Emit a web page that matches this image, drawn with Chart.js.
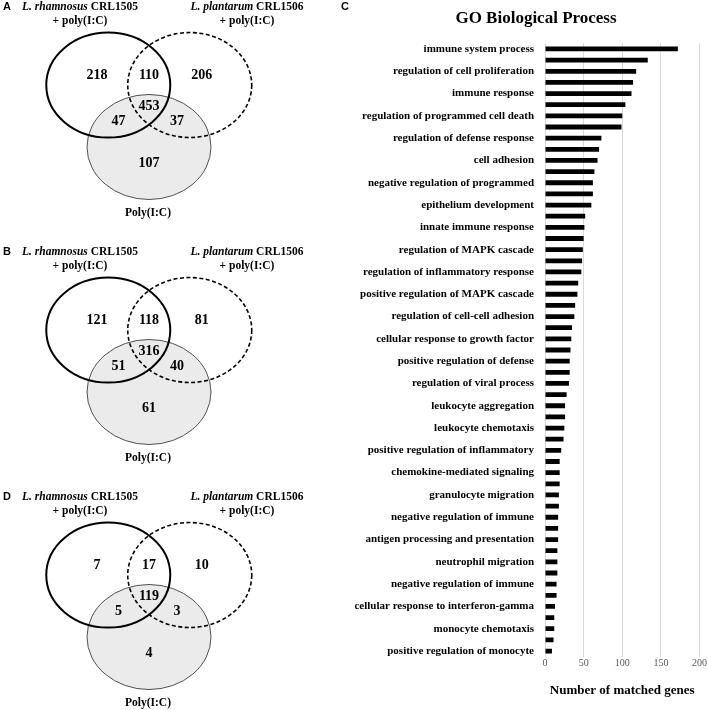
<!DOCTYPE html>
<html lang="en">
<head>
<meta charset="UTF-8">
<title>Venn diagrams and GO Biological Process</title>
<script src="https://cdn.jsdelivr.net/npm/chart.js"></script>
<style>
    html, body {
        margin: 0;
        padding: 0;
        width: 708px;
        height: 710px;
        overflow: hidden;
        background: #fff;
    }
    .abs { position: absolute; }
    .letter {
        font-family: 'Liberation Sans', Arial, sans-serif;
        font-weight: 700;
        font-size: 11px;
        line-height: 14px;
        color: #000;
    }
    .hdr {
        font-family: 'Liberation Serif', 'Times New Roman', serif;
        font-weight: 700;
        font-size: 11.5px;
        line-height: 13.5px;
        text-align: center;
        color: #000;
    }
    .poly {
        font-family: 'Liberation Serif', 'Times New Roman', serif;
        font-weight: 700;
        font-size: 11.5px;
        line-height: 14px;
        text-align: center;
        width: 100px;
        color: #000;
    }
    .goTitle {
        font-family: 'Liberation Serif', 'Times New Roman', serif;
        font-weight: 700;
        font-size: 17px;
        line-height: 20px;
        text-align: center;
        color: #000;
    }
</style>
</head>
<body>
<div id="page"></div>
<div class="abs goTitle" style="left:436px;width:200px;top:8px">GO Biological Process</div>
<canvas id="goChart" class="abs" width="368" height="710" style="left:340px;top:0"></canvas>

<script>
// ---- Venn data (counts per region) ----
const vennRegions = ['onlyRhamnosus', 'rhamnosusPlantarum', 'onlyPlantarum', 'allThree', 'rhamnosusPoly', 'plantarumPoly', 'onlyPoly'];
const vennA = [218, 110, 206, 453, 47, 37, 107];
const vennB = [121, 118, 81, 316, 51, 40, 61];
const vennD = [7, 17, 10, 119, 5, 3, 4];
const setNames = ['L. rhamnosus CRL1505', 'L. plantarum CRL1506', 'Poly(I:C)'];

// ---- GO bar chart data ----
const goTerms = [
    'immune system process',
    'regulation of cell proliferation',
    'immune response',
    'regulation of programmed cell death',
    'regulation of defense response',
    'cell adhesion',
    'negative regulation of programmed',
    'epithelium development',
    'innate immune response',
    'regulation of MAPK cascade',
    'regulation of inflammatory response',
    'positive regulation of MAPK cascade',
    'regulation of cell-cell adhesion',
    'cellular response to growth factor',
    'positive regulation of defense',
    'regulation of viral process',
    'leukocyte aggregation',
    'leukocyte chemotaxis',
    'positive regulation of inflammatory',
    'chemokine-mediated signaling',
    'granulocyte migration',
    'negative regulation of immune',
    'antigen processing and presentation',
    'neutrophil migration',
    'negative regulation of immune',
    'cellular response to interferon-gamma',
    'monocyte chemotaxis',
    'positive regulation of monocyte'
];
// one bar per GO term, only every other one is labelled in the figure
const matchedGenes = [
    172, 133, 118, 114, 112, 104, 100, 99, 73, 70,
    68, 64, 62, 62, 60, 52, 51, 50, 49, 48,
    47, 43, 42, 39, 38, 35, 34, 33, 32, 32,
    31, 28, 26, 26, 25, 24, 21, 19, 19, 19,
    18, 18, 17, 17, 17, 16, 16, 16, 15, 15,
    13, 12, 12, 11, 9
];
const xTicks = [0, 50, 100, 150, 200];

const serif = "'Liberation Serif', 'Times New Roman', serif";

// layout of the venn diagram (unit circles, y up)
const circleR = 1;
const circles = [
    { x: -0.657, y: 1.18 },  // rhamnosus
    { x: 0.657, y: 1.18 },   // plantarum
    { x: 0, y: 0 }           // poly(I:C)
];
const regionSpots = [
    [-0.84, 1.37], [0, 1.37], [0.85, 1.37],
    [0, 0.78], [-0.49, 0.48], [0.45, 0.48], [0, -0.31]
];

const vennPlugin = {
    id: 'venn',
    beforeDatasetsDraw(chart) {
        const { ctx, scales: { x, y } } = chart;
        function ellipse(c) {
            const cx = x.getPixelForValue(c.x);
            const cy = y.getPixelForValue(c.y);
            const rx = x.getPixelForValue(c.x + circleR) - cx;
            const ry = cy - y.getPixelForValue(c.y + circleR);
            ctx.beginPath();
            ctx.ellipse(cx, cy, rx, ry, 0, 0, Math.PI * 2);
        }
        ctx.save();
        // poly(I:C)
        ellipse(circles[2]);
        ctx.fillStyle = '#ebebeb';
        ctx.fill();
        ctx.lineWidth = 1;
        ctx.strokeStyle = '#505050';
        ctx.stroke();
        // rhamnosus
        ellipse(circles[0]);
        ctx.lineWidth = 2;
        ctx.strokeStyle = '#000';
        ctx.stroke();
        // plantarum
        ellipse(circles[1]);
        ctx.lineWidth = 1.6;
        ctx.setLineDash([4, 2.5]);
        ctx.stroke();
        ctx.restore();
    },
    afterDatasetsDraw(chart) {
        const { ctx } = chart;
        const meta = chart.getDatasetMeta(0);
        const pts = chart.data.datasets[0].data;
        ctx.save();
        ctx.font = 'bold 14px ' + serif;
        ctx.fillStyle = '#000';
        ctx.textAlign = 'center';
        ctx.textBaseline = 'middle';
        meta.data.forEach((el, i) => {
            ctx.fillText(String(pts[i].n), el.x, el.y);
        });
        ctx.restore();
    }
};

function makeVenn(letter, counts, top) {
    const page = document.getElementById('page');
    const cv = document.createElement('canvas');
    cv.width = 330;
    cv.height = 245;
    cv.className = 'abs';
    cv.style.left = '0px';
    cv.style.top = top + 'px';
    page.appendChild(cv);

    const add = (cls, html, css) => {
        const d = document.createElement('div');
        d.className = 'abs ' + cls;
        d.innerHTML = html;
        Object.assign(d.style, css);
        page.appendChild(d);
    };
    add('letter', letter, { left: '3px', top: (top - 1) + 'px' });
    add('hdr', '<i>L. rhamnosus</i> CRL1505<br>+ poly(I:C)', { left: '10px', width: '140px', top: top + 'px' });
    add('hdr', '<i>L. plantarum</i> CRL1506<br>+ poly(I:C)', { left: '177px', width: '140px', top: top + 'px' });
    add('poly', setNames[2], { left: '98px', top: (top + 205) + 'px' });

    // centre of the poly(I:C) circle at (149, 147) px, 62 x 52.5 px per unit
    new Chart(cv, {
        type: 'scatter',
        data: {
            datasets: [{
                data: counts.map((n, i) => ({ x: regionSpots[i][0], y: regionSpots[i][1], n: n, region: vennRegions[i] })),
                pointRadius: 0
            }]
        },
        options: {
            responsive: false,
            animation: false,
            layout: { padding: 0 },
            scales: {
                x: { type: 'linear', display: false, min: -149 / 62, max: (330 - 149) / 62 },
                y: { type: 'linear', display: false, min: -(245 - 147) / 52.5, max: 147 / 52.5 }
            },
            plugins: { legend: { display: false }, tooltip: { enabled: false } }
        },
        plugins: [vennPlugin]
    });
}

makeVenn('A', vennA, 0);
makeVenn('B', vennB, 245);
makeVenn('D', vennD, 490);

(function () {
    const page = document.getElementById('page');
    const c = document.createElement('div');
    c.className = 'abs letter';
    c.textContent = 'C';
    c.style.left = '341px';
    c.style.top = '-1px';
    page.appendChild(c);
})();

// ---- GO Biological Process bar chart ----
const barLabels = matchedGenes.map((v, i) => (i % 2 === 0 ? goTerms[i / 2] : ''));

new Chart(document.getElementById('goChart'), {
    type: 'bar',
    data: {
        labels: barLabels,
        datasets: [{
            label: 'Number of matched genes',
            data: matchedGenes,
            backgroundColor: '#000',
            borderWidth: 0,
            barPercentage: 0.43,
            categoryPercentage: 1
        }]
    },
    options: {
        indexAxis: 'y',
        responsive: false,
        animation: false,
        layout: { padding: { left: 0, right: 0, top: 43.4, bottom: 0 } },
        plugins: {
            legend: { display: false },
            tooltip: { enabled: false }
        },
        scales: {
            x: {
                min: xTicks[0],
                max: xTicks[xTicks.length - 1],
                border: { display: false },
                grid: { color: '#d9d9d9', drawTicks: false },
                afterBuildTicks: (scale) => { scale.ticks = xTicks.map(v => ({ value: v })); },
                afterFit: (scale) => { scale.height = 53.4; },
                ticks: {
                    padding: 1,
                    color: '#595959',
                    font: { family: serif, size: 10 }
                },
                title: {
                    display: true,
                    text: 'Number of matched genes',
                    color: '#000',
                    font: { family: serif, size: 13, weight: 'bold' },
                    padding: { top: 0, bottom: 12 }
                }
            },
            y: {
                border: { display: false },
                grid: { display: false, drawTicks: false },
                afterFit: (scale) => { scale.width = 205; },
                ticks: {
                    autoSkip: false,
                    padding: 11,
                    color: '#000',
                    font: { family: serif, size: 11, weight: 'bold' }
                }
            }
        }
    }
});
</script>
</body>
</html>
